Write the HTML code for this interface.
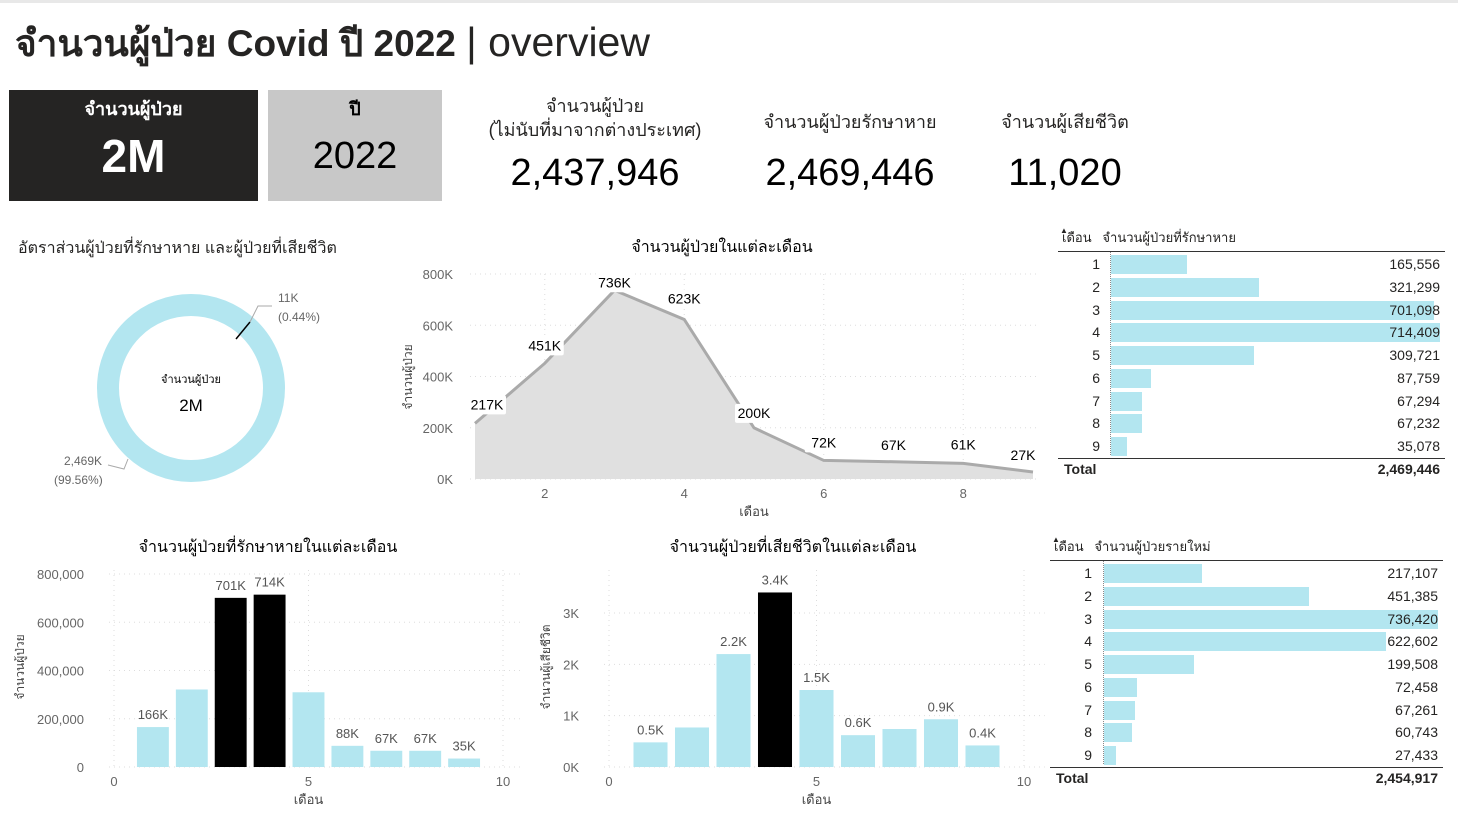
<!DOCTYPE html>
<html><head><meta charset="utf-8">
<style>
body{margin:0;width:1458px;height:820px;background:#fff;font-family:"Liberation Sans","Noto Sans CJK SC",sans-serif;overflow:hidden;position:relative;color:#252423}
.a{position:absolute}
.c{text-align:center}
svg text{font-family:"Liberation Sans","Noto Sans CJK SC",sans-serif}
</style></head><body>
<div class="a" style="left:0;top:0;width:1458px;height:3px;background:#e8e8e8"></div>
<div class="a" style="left:15px;top:14px;font-size:37px;white-space:nowrap"><b>จำนวนผู้ป่วย Covid ปี 2022</b> <span style="font-weight:300;font-size:41px">| overview</span></div>

<div class="a c" style="left:9px;top:90px;width:249px;height:111px;background:#252423;color:#fff">
<div style="font-size:18px;margin-top:4px;font-weight:bold">จำนวนผู้ป่วย</div><div style="font-size:46px;margin-top:6px;font-weight:bold">2M</div></div>
<div class="a c" style="left:268px;top:90px;width:174px;height:111px;background:#c8c8c8;color:#000">
<div style="font-size:18px;margin-top:4px;font-weight:bold">ปี</div><div style="font-size:38px;margin-top:12px">2022</div></div>

<div class="a c" style="left:470px;top:94px;width:250px;font-size:18px;line-height:24px">จำนวนผู้ป่วย<br>(ไม่นับที่มาจากต่างประเทศ)</div>
<div class="a c" style="left:470px;top:152px;width:250px;font-size:38px;color:#000">2,437,946</div>
<div class="a c" style="left:730px;top:107px;width:240px;font-size:18px">จำนวนผู้ป่วยรักษาหาย</div>
<div class="a c" style="left:730px;top:152px;width:240px;font-size:38px;color:#000">2,469,446</div>
<div class="a c" style="left:980px;top:107px;width:170px;font-size:18px">จำนวนผู้เสียชีวิต</div>
<div class="a c" style="left:980px;top:152px;width:170px;font-size:38px;color:#000">11,020</div>

<div class="a" style="left:18px;top:236px;font-size:16px">อัตราส่วนผู้ป่วยที่รักษาหาย และผู้ป่วยที่เสียชีวิต</div>
<svg class="a" style="left:0;top:260px" width="400" height="250">
<circle cx="191" cy="128" r="83" fill="none" stroke="#b3e6f0" stroke-width="22"/>
<line x1="236" y1="79" x2="250" y2="62" stroke="#000" stroke-width="1.5"/>
<polyline points="250,62 258,46 272,46" fill="none" stroke="#aaa"/>
<text x="278" y="42" font-size="12" fill="#666">11K</text><text x="278" y="61" font-size="12" fill="#666">(0.44%)</text>
<polyline points="108,205 124,209 128,199" fill="none" stroke="#aaa"/>
<text x="64" y="205" font-size="12" fill="#666">2,469K</text><text x="54" y="224" font-size="12" fill="#666">(99.56%)</text>
<text x="191" y="123" font-size="11" text-anchor="middle">จำนวนผู้ป่วย</text>
<text x="191" y="151" font-size="17" text-anchor="middle">2M</text>
</svg>

<svg class="a" style="left:0;top:0" width="1458" height="820" id="charts"></svg>

<div class="a" id="t1"></div>
<div class="a" id="t2"></div>

<script>
const months=[1,2,3,4,5,6,7,8,9];
const newCases=[217107,451385,736420,622602,199508,72458,67261,60743,27433];
const newLabels=["217K","451K","736K","623K","200K","72K","67K","61K","27K"];
const recovered=[165556,321299,701098,714409,309721,87759,67294,67232,35078];
const recLabels=["166K","","701K","714K","","88K","67K","67K","35K"];
const deaths=[480,770,2200,3400,1500,620,740,930,420];
const deathLabels=["0.5K","","2.2K","3.4K","1.5K","0.6K","","0.9K","0.4K"];
const areaTicks=[0,200000,400000,600000,800000];
const areaTickLabels=["0K","200K","400K","600K","800K"];
const recTicks=[0,200000,400000,600000,800000];
const recTickLabels=["0","200,000","400,000","600,000","800,000"];
const deathTicks=[0,1000,2000,3000];
const deathTickLabels=["0K","1K","2K","3K"];
const xTicksArea=[2,4,6,8];
const xTicksBar=[0,5,10];

const NS="http://www.w3.org/2000/svg";
const svg=document.getElementById('charts');
function el(t,a,txt){const e=document.createElementNS(NS,t);for(const k in a)e.setAttribute(k,a[k]);if(txt!==undefined)e.textContent=txt;svg.appendChild(e);return e;}
function fmt(n){return n.toLocaleString('en-US');}

// Area chart
(function(){
 const x=m=>475+(m-1)*69.75, y=v=>479-v*(205/800000);
 let t=el('text',{x:722,y:252,'font-size':16,'text-anchor':'middle'},'จำนวนผู้ป่วยในแต่ละเดือน');
 
 
 areaTicks.forEach((v,i)=>{let g=el('line',{x1:470,x2:1040,y1:y(v),y2:y(v),stroke:'#ddd','stroke-dasharray':'1 4'});
  
  
  let l=el('text',{x:453,y:y(v)+5,'font-size':13,fill:'#666','text-anchor':'end'},areaTickLabels[i]);
  
  });
 xTicksArea.forEach(m=>{el('line',{x1:x(m),x2:x(m),y1:274,y2:479,stroke:'#ddd','stroke-dasharray':'1 4'});
  let l=el('text',{x:x(m),y:498,'font-size':13,fill:'#666','text-anchor':'middle'},m);
  
  });
 let pts=months.map((m,i)=>x(m)+','+y(newCases[i])).join(' ');
 let ar=el('polygon',{points:x(1)+','+y(0)+' '+pts+' '+x(9)+','+y(0),fill:'#e0e0e0'});
 
 
 let ln=el('polyline',{points:pts,fill:'none',stroke:'#aaa','stroke-width':3});
 
 
 const off=[[12,-14],[0,-13],[0,-3],[0,-16],[0,-10],[0,-13],[0,-12],[0,-14],[-10,-12]];
 months.forEach((m,i)=>{const lx=x(m)+off[i][0],ly=y(newCases[i])+off[i][1];
  el('rect',{x:lx-19,y:ly-14,width:38,height:19,fill:'#fff',rx:2});
  let l=el('text',{x:lx,y:ly,'font-size':14,'text-anchor':'middle'},newLabels[i]);
  
  });
 let yt=el('text',{x:0,y:0,'font-size':12,fill:'#444','text-anchor':'middle',transform:'translate(412,377) rotate(-90)'},'จำนวนผู้ป่วย');
 
 
 let xt=el('text',{x:754,y:516,'font-size':13,fill:'#444','text-anchor':'middle'},'เดือน');
 
 
})();

function barChart(o){
 const x=v=>o.x0+v*o.xs, y=v=>o.y0-v*o.ys;
 let t=el('text',{x:o.tx,y:552,'font-size':16,'text-anchor':'middle'},o.title);
 
 
 o.ticks.forEach((v,i)=>{el('line',{x1:o.x0-5,x2:o.x0+10.5*o.xs,y1:y(v),y2:y(v),stroke:'#ddd','stroke-dasharray':'1 4'});
  let l=el('text',{x:o.x0-30,y:y(v)+5,'font-size':13,fill:'#666','text-anchor':'end'},o.tickLabels[i]);
  
  });
 xTicksBar.forEach(m=>{el('line',{x1:x(m),x2:x(m),y1:570,y2:o.y0,stroke:'#ddd','stroke-dasharray':'1 4'});
  let l=el('text',{x:x(m),y:786,'font-size':13,fill:'#666','text-anchor':'middle'},m);
  
  });
 months.forEach((m,i)=>{const v=o.vals[i],bw=o.xs*0.82;
  let r=el('rect',{x:x(m)-bw/2,y:y(v),width:bw,height:o.y0-y(v),fill:o.dark.includes(m)?'#000':'#b3e6f0'});
  
  
  if(o.labels[i]){let l=el('text',{x:x(m),y:y(v)-8,'font-size':13,fill:'#555','text-anchor':'middle'},o.labels[i]);
   
   }});
 let yt=el('text',{x:0,y:0,'font-size':12,fill:'#444','text-anchor':'middle',transform:'translate('+o.ytx+',667) rotate(-90)'},o.ytitle);
 
 
 let xt=el('text',{x:x(5),y:804,'font-size':13,fill:'#444','text-anchor':'middle'},'เดือน');
 
 
}
barChart({name:'recovered-chart',title:'จำนวนผู้ป่วยที่รักษาหายในแต่ละเดือน',tx:268,x0:114,xs:38.9,y0:767,ys:193/800000,vals:recovered,labels:recLabels,ticks:recTicks,tickLabels:recTickLabels,dark:[3,4],ytitle:'จำนวนผู้ป่วย',ytx:24});
barChart({name:'deaths-chart',title:'จำนวนผู้ป่วยที่เสียชีวิตในแต่ละเดือน',tx:793,x0:609,xs:41.5,y0:767,ys:154/3000,vals:deaths,labels:deathLabels,ticks:deathTicks,tickLabels:deathTickLabels,dark:[4],ytitle:'จำนวนผู้เสียชีวิต',ytx:550});

function table(id,left,top,width,barX,barMax,head,vals,total,name){
 const d=document.getElementById(id);
 d.style.left=left+'px';d.style.top=top+'px';d.style.width=width+'px';
 let h='<div style="position:relative;height:'+(18*13+58)+'px;font-size:14px">';
 h+='<div style="position:absolute;left:2px;top:-7px;font-size:8px">▲</div>';
 h+='<div style="position:absolute;left:4px;top:-6px;font-size:13px;white-space:nowrap">เดือน&nbsp;&nbsp;&nbsp;'+head+'</div>';
 h+='<div style="position:absolute;left:0;right:0;top:18px;border-top:1.5px solid #333"></div>';
 h+='<div style="position:absolute;left:'+(barX-left-1)+'px;top:19px;height:203px;border-left:1px dotted #888"></div>';
 const mx=Math.max(...vals);
 vals.forEach((v,i)=>{const ty=22+i*22.75;
  h+='<div style="position:absolute;left:'+(barX-left)+'px;top:'+ty+'px;height:19px;width:'+(v/mx*barMax)+'px;background:#b3e6f0"></div>';
  h+='<div style="position:absolute;left:28px;top:'+(ty+1)+'px;width:14px;text-align:right">'+(i+1)+'</div>';
  h+='<div style="position:absolute;right:5px;top:'+(ty+1)+'px">'+fmt(v)+'</div>';});
 h+='<div style="position:absolute;left:0;right:0;top:225px;border-top:1px solid #333"></div>';
 h+='<div style="position:absolute;left:6px;right:5px;top:228px;font-weight:bold"><span>Total</span><span style="float:right">'+total+'</span></div>';
 d.innerHTML=h+'</div>';
}
table('t1',1058,233,387,1111,329,'จำนวนผู้ป่วยที่รักษาหาย',recovered,'2,469,446');
table('t2',1050,542,393,1104,334,'จำนวนผู้ป่วยรายใหม่',newCases,'2,454,917');
</script>
</body></html>
